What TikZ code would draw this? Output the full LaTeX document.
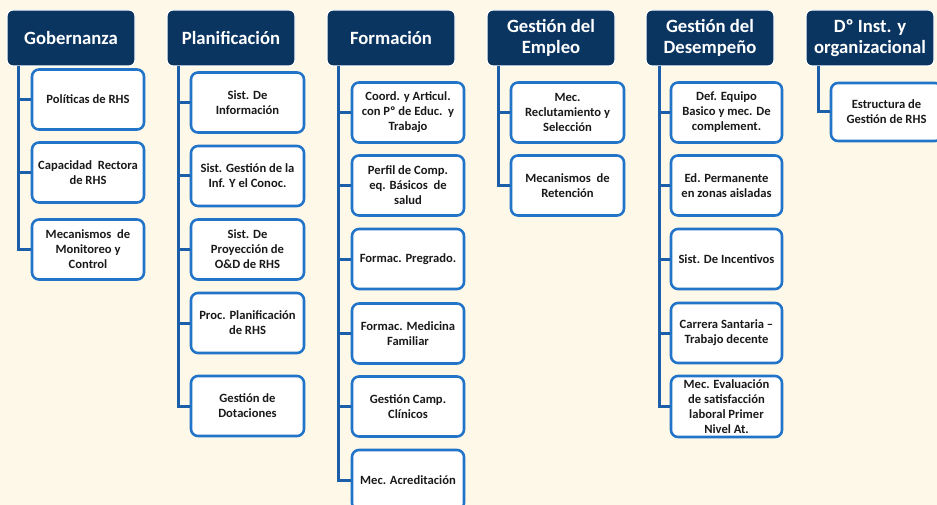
\documentclass[tikz,border=0pt]{standalone}
\usepackage{fontspec}
\setmainfont{Carlito}
\definecolor{bg}{HTML}{FDF8E8}
\definecolor{navy}{HTML}{0B3561}
\definecolor{boxblue}{HTML}{2274C8}
\definecolor{linkblue}{HTML}{1B5FAA}
\definecolor{txt}{HTML}{1A1A1A}
\tikzset{
  hdr/.style={fill=navy, draw=white, line width=1.2pt, rounded corners=6pt,
    minimum width=128pt, minimum height=56pt, inner sep=1pt, align=center,
    text=white, font=\bfseries\fontsize{18.7}{21}\selectfont},
  sub/.style={fill=white, draw=boxblue, line width=2.6pt, rounded corners=7pt,
    minimum width=112pt, minimum height=60pt, inner sep=0pt, align=center,
    text=txt, font=\bfseries\fontsize{12.6}{15}\selectfont},
  conn/.style={draw=linkblue, line width=3pt},
}
\begin{document}
\begin{tikzpicture}[x=1pt,y=-1pt]
\path[use as bounding box, fill=bg] (0,0) rectangle (937,505);
\clip (0,0) rectangle (937,505);
% headers
\node[hdr] (h1) at (71,38) {Gobernanza};
\node[hdr] (h2) at (231,38) {Planificación};
\node[hdr] (h3) at (391,38) {Formación};
\node[hdr] (h4) at (551,38) {Gestión del\\Empleo};
\node[hdr] (h5) at (710,38) {Gestión del\\Desempeño};
\node[hdr] (h6) at (870,38) {Dº Inst. y\\organizacional};
% Gobernanza
\node[sub] (g1) at (88,99.5) {Políticas de RHS};
\node[sub] (g2) at (88,172.5) {Capacidad\ \ Rectora\\de RHS};
\node[sub] (g3) at (88,249.5) {Mecanismos\ \ de\\Monitoreo y\\Control};
% Planificacion
\node[sub, minimum width=113pt] (p1) at (247.5,102.5) {Sist. De\\Información};
\node[sub, minimum width=113pt] (p2) at (247.5,176) {Sist. Gestión de la\\Inf. Y el Conoc.};
\node[sub, minimum width=113pt] (p3) at (247.5,249.5) {Sist. De\\Proyección de\\O\&D de RHS};
\node[sub, minimum width=113pt] (p4) at (247.5,323) {Proc. Planificación\\de RHS};
\node[sub, minimum width=113pt] (p5) at (247.5,406) {Gestión de\\Dotaciones};
% Formacion
\node[sub] (f1) at (408,112.5) {Coord. y Articul.\\con Pº de Educ.\ \ y\\Trabajo};
\node[sub] (f2) at (408,185.5) {Perfil de Comp.\\eq. Básicos\ \ de\\salud};
\node[sub] (f3) at (408,259) {Formac. Pregrado.};
\node[sub] (f4) at (408,333.5) {Formac. Medicina\\Familiar};
\node[sub] (f5) at (408,406.5) {Gestión Camp.\\Clínicos};
\node[sub] (f6) at (408,480) {Mec. Acreditación};
% Empleo
\node[sub, minimum width=113pt] (e1) at (567.5,112.5) {Mec.\\Reclutamiento y\\Selección};
\node[sub, minimum width=113pt] (e2) at (567.5,185.5) {Mecanismos\ \ de\\Retención};
% Desempeno
\node[sub, minimum width=111pt] (d1) at (726.5,112.5) {Def. Equipo\\Basico y mec. De\\complement.};
\node[sub, minimum width=111pt] (d2) at (726.5,185.5) {Ed. Permanente\\en zonas aisladas};
\node[sub, minimum width=111pt] (d3) at (726.5,259) {Sist. De Incentivos};
\node[sub, minimum width=111pt] (d4) at (726.5,333) {Carrera Santaria --\\Trabajo decente};
\node[sub, minimum width=111pt, minimum height=61pt] (d5) at (726.5,406.5) {Mec. Evaluación\\de satisfacción\\laboral Primer\\Nivel At.};
% Inst
\node[sub, minimum width=111pt, minimum height=58pt] (i1) at (886.5,112) {Estructura de\\Gestión de RHS};
% connector roots
\coordinate (c1) at (18,66);
\coordinate (c2) at (178,66);
\coordinate (c3) at (338,66);
\coordinate (c4) at (498,66);
\coordinate (c5) at (659,66);
\coordinate (c6) at (818,66);
\foreach \c/\n in {c1/g1,c1/g2,c1/g3,
                   c2/p1,c2/p2,c2/p3,c2/p4,c2/p5,
                   c3/f1,c3/f2,c3/f3,c3/f4,c3/f5,c3/f6,
                   c4/e1,c4/e2,
                   c5/d1,c5/d2,c5/d3,c5/d4,c5/d5,
                   c6/i1}
  \draw[conn] (\c) |- (\n.west);
\end{tikzpicture}
\end{document}
